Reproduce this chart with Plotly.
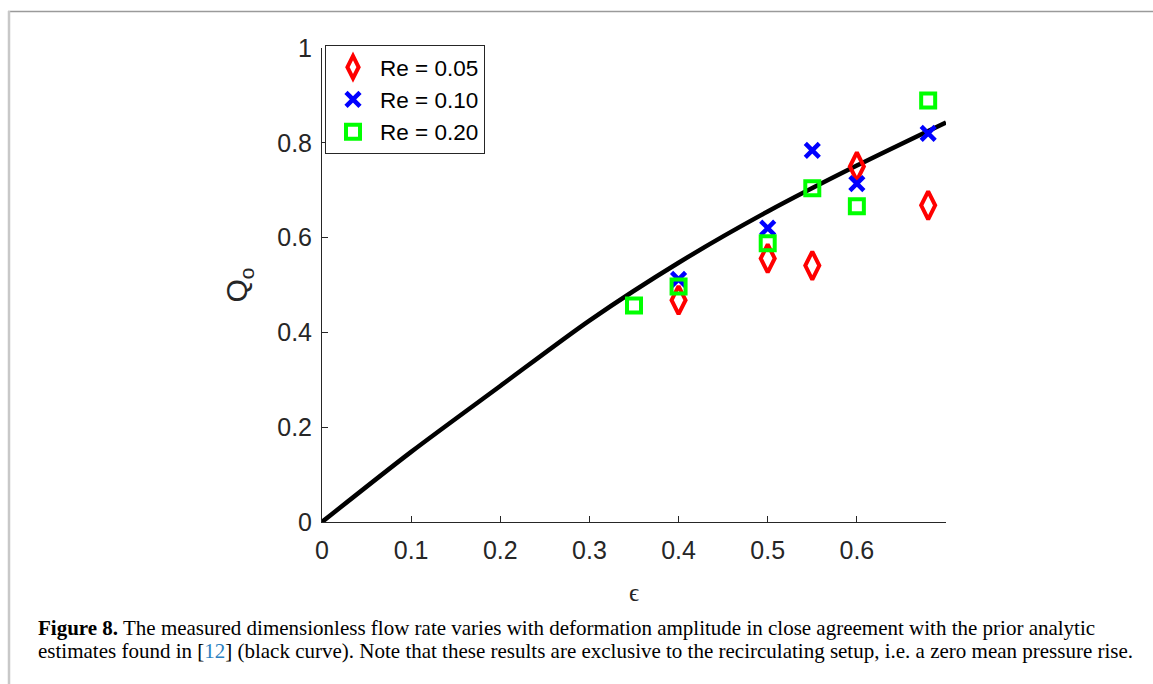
import plotly.graph_objects as go

# ---- data ----
curve_eps = [0.0, 0.1, 0.2, 0.3, 0.4, 0.5, 0.6, 0.7]
curve_q = [0.0, 0.148, 0.287, 0.425, 0.547, 0.655, 0.752, 0.843]

eps_re005 = [0.40, 0.50, 0.55, 0.60, 0.68]
q_re005 = [0.468, 0.556, 0.541, 0.750, 0.668]

eps_re010 = [0.40, 0.50, 0.55, 0.60, 0.68]
q_re010 = [0.512, 0.620, 0.784, 0.714, 0.820]

eps_re020 = [0.35, 0.40, 0.50, 0.55, 0.60, 0.68]
q_re020 = [0.457, 0.497, 0.588, 0.704, 0.666, 0.889]

x_ticks = [0, 0.1, 0.2, 0.3, 0.4, 0.5, 0.6]
x_ticklabels = ["0", "0.1", "0.2", "0.3", "0.4", "0.5", "0.6"]
y_ticks = [0, 0.2, 0.4, 0.6, 0.8, 1.0]
y_ticklabels = ["0", "0.2", "0.4", "0.6", "0.8", "1"]

caption_line1 = ("<b>Figure 8.</b> The measured dimensionless flow rate varies with deformation "
                 "amplitude in close agreement with the prior analytic")
caption_line2 = ("estimates found in [<span style='color:#2a7fc0'>12</span>] (black curve). "
                 "Note that these results are exclusive to the recirculating setup, i.e. a zero mean pressure rise.")

W, H = 1153, 684
L, R, T, B = 322, 946, 48, 522


def px_x(p):
    return (p - L) / (R - L)


def px_y(p):
    return (B - p) / (B - T)


fig = go.Figure()

fig.add_trace(go.Scatter(
    x=curve_eps, y=curve_q, mode="lines",
    line=dict(color="black", width=4.5, shape="spline", smoothing=0.8),
    showlegend=False, hoverinfo="skip"))

fig.add_trace(go.Scatter(
    x=eps_re005, y=q_re005, mode="markers", name="Re = 0.05",
    marker=dict(symbol="diamond-tall-open", size=20, color="#ff0000",
                line=dict(color="#ff0000", width=4))))

fig.add_trace(go.Scatter(
    x=eps_re010, y=q_re010, mode="markers", name="Re = 0.10",
    marker=dict(symbol="x-thin-open", size=14, color="#0000ff",
                line=dict(color="#0000ff", width=4.5))))

fig.add_trace(go.Scatter(
    x=eps_re020, y=q_re020, mode="markers", name="Re = 0.20",
    marker=dict(symbol="square-open", size=14, color="#00ff00",
                line=dict(color="#00ff00", width=4))))

tick_font = dict(family="Liberation Sans, Arial, sans-serif", size=25, color="#262626")

fig.update_xaxes(
    range=[0, 0.7], tickvals=x_ticks, ticktext=x_ticklabels,
    ticks="inside", ticklen=6, tickwidth=1, tickcolor="#262626",
    showline=True, linecolor="#262626", linewidth=1,
    showgrid=False, zeroline=False, tickfont=tick_font, ticklabelstandoff=6,
    title=dict(text="ϵ", font=dict(family="Liberation Serif, serif", size=25, color="#262626"),
               standoff=20))

fig.update_yaxes(
    range=[0, 1], tickvals=y_ticks, ticktext=y_ticklabels,
    ticks="inside", ticklen=6, tickwidth=1, tickcolor="#262626",
    showline=True, linecolor="#262626", linewidth=1,
    showgrid=False, zeroline=False, tickfont=tick_font, ticklabelstandoff=4,
    title=dict(text="Q<sub>o</sub>", font=dict(family="Liberation Sans, Arial, sans-serif", size=30, color="#262626"),
               standoff=20))

fig.update_layout(
    width=W, height=H,
    margin=dict(l=L, r=W - R, t=T, b=H - B, pad=0),
    paper_bgcolor="white", plot_bgcolor="white",
    legend=dict(x=px_x(325), y=px_y(45), xanchor="left", yanchor="top",
                bordercolor="#262626", borderwidth=1, bgcolor="white",
                font=dict(family="Liberation Sans, Arial, sans-serif", size=22.5, color="black"),
                itemwidth=44),
    shapes=[
        dict(type="line", xref="paper", yref="paper",
             x0=px_x(8), x1=px_x(W), y0=px_y(11.5), y1=px_y(11.5),
             line=dict(color="#9a9a9a", width=1.5)),
        dict(type="line", xref="paper", yref="paper",
             x0=px_x(9), x1=px_x(9), y0=px_y(11), y1=px_y(H),
             line=dict(color="#c8c8c8", width=2.5)),
    ],
    annotations=[
        dict(text=caption_line1, xref="paper", yref="paper",
             x=px_x(36), y=px_y(628), xanchor="left", yanchor="middle", align="left",
             showarrow=False, font=dict(family="Liberation Serif, serif", size=21, color="black")),
        dict(text=caption_line2, xref="paper", yref="paper",
             x=px_x(36), y=px_y(651), xanchor="left", yanchor="middle", align="left",
             showarrow=False, font=dict(family="Liberation Serif, serif", size=21, color="black")),
    ],
)

fig.write_html("out.html")
